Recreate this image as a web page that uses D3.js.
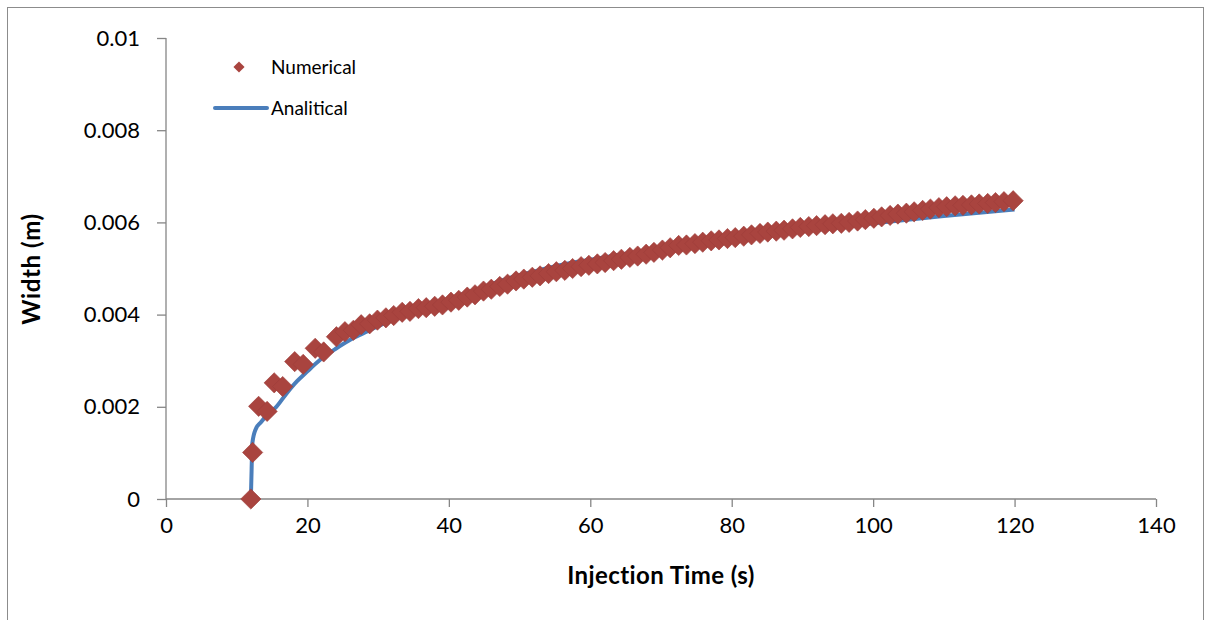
<!DOCTYPE html>
<html>
<head>
<meta charset="utf-8">
<script src="https://cdn.jsdelivr.net/npm/d3@7"></script>
<style>
  html, body { margin: 0; padding: 0; background: #ffffff; }
  svg { display: block; }
  text { font-family: Lato, "Open Sans", sans-serif; fill: #000; }
</style>
</head>
<body>
<svg id="chart" width="1207" height="620"></svg>
<script>
// Fracture width versus injection time: simulated points and closed-form curve.
const numericalTime = [
  12.0, 12.25, 13.1, 14.3, 15.3, 16.5, 18.2, 19.4, 21.1, 22.3, 24.1, 25.3,
  26.5, 27.6, 28.8, 29.9, 31.1, 32.2, 33.4, 34.5, 35.7, 36.8, 38.0, 39.1,
  40.3, 41.4, 42.6, 43.7, 44.9, 46.0, 47.2, 48.3, 49.5, 50.6, 51.8, 52.9,
  54.1, 55.2, 56.4, 57.5, 58.7, 59.8, 61.0, 62.1, 63.3, 64.4, 65.6, 66.7,
  67.9, 69.0, 70.2, 71.3, 72.5, 73.6, 74.8, 75.9, 77.1, 78.2, 79.4, 80.5,
  81.7, 82.8, 84.0, 85.1, 86.3, 87.4, 88.6, 89.7, 90.9, 92.0, 93.2, 94.3,
  95.5, 96.6, 97.8, 98.9, 100.1, 101.2, 102.4, 103.5, 104.7, 105.8, 107.0, 108.1,
  109.3, 110.4, 111.6, 112.7, 113.9, 115.0, 116.2, 117.3, 118.5, 119.8
];
const numericalWidth = [
  0.0, 0.00101, 0.00201, 0.00190, 0.00252, 0.00244, 0.00298, 0.00292, 0.00327, 0.00319, 0.00352, 0.00363,
  0.00366, 0.00378, 0.00380, 0.00388, 0.00393, 0.00398, 0.00405, 0.00407, 0.00413, 0.00415, 0.00418, 0.00421,
  0.00427, 0.00431, 0.00438, 0.00443, 0.00451, 0.00455, 0.00461, 0.00466, 0.00473, 0.00477, 0.00481, 0.00484,
  0.00489, 0.00493, 0.00496, 0.00500, 0.00504, 0.00507, 0.00510, 0.00513, 0.00517, 0.00520, 0.00524, 0.00527,
  0.00531, 0.00535, 0.00540, 0.00545, 0.00550, 0.00551, 0.00554, 0.00557, 0.00560, 0.00562, 0.00565, 0.00567,
  0.00570, 0.00573, 0.00576, 0.00579, 0.00581, 0.00583, 0.00586, 0.00589, 0.00591, 0.00593, 0.00595, 0.00597,
  0.00598, 0.00600, 0.00603, 0.00606, 0.00609, 0.00612, 0.00615, 0.00618, 0.00620, 0.00623, 0.00626, 0.00629,
  0.00632, 0.00634, 0.00636, 0.00637, 0.00638, 0.00640, 0.00641, 0.00643, 0.00645, 0.00647
];
const analyticalTime = [
  12.0, 12.1, 12.2, 12.7, 13.4, 14.5, 15.6, 17.0, 18.5, 20.0, 21.8, 24.0,
  26.0, 28.0, 30.0, 33.0, 36.0, 40.0, 44.0, 48.7, 52.9, 56.0, 60.0, 65.0,
  70.0, 80.0, 90.0, 100.0, 110.0, 120.0
];
const analyticalWidth = [
  0.0, 0.0006, 0.0012, 0.00152, 0.00166, 0.00186, 0.00200, 0.00228, 0.00255, 0.00277, 0.00302, 0.00326,
  0.00345, 0.00360, 0.00375, 0.00395, 0.00412, 0.00434, 0.00455, 0.00480, 0.00497, 0.00508, 0.00519, 0.00532,
  0.00543, 0.00563, 0.00581, 0.00598, 0.00614, 0.00628
];
const xTicks = [0, 20, 40, 60, 80, 100, 120, 140];
const yTicks = [0, 0.002, 0.004, 0.006, 0.008, 0.01];
const yTickLabels = ["0", "0.002", "0.004", "0.006", "0.008", "0.01"];
const seriesNames = ["Numerical", "Analitical"];
const xTitle = "Injection Time (s)";
const yTitle = "Width (m)";

const markerColor = "#A9443F";
const lineColor = "#4A7EBB";
const axisColor = "#868686";

const svg = d3.select("#chart");

// outer chart frame
svg.append("rect")
  .attr("x", 7.5).attr("y", 7.5)
  .attr("width", 1196).attr("height", 640)
  .attr("fill", "#fff")
  .attr("stroke", "#8c8c8c").attr("stroke-width", 1);

const x = d3.scaleLinear().domain([0, 140]).range([166, 1156]);
const y = d3.scaleLinear().domain([0, 0.01]).range([499, 38]);

// axes
const xAxis = d3.axisBottom(x).tickValues(xTicks).tickSize(8).tickPadding(10)
  .tickFormat(d => String(d));
const yAxis = d3.axisLeft(y).tickValues(yTicks).tickSize(9).tickPadding(17)
  .tickFormat((d, i) => yTickLabels[i]);

const gx = svg.append("g").attr("transform", "translate(0,499)").call(xAxis);
const gy = svg.append("g").attr("transform", "translate(166,0)").call(yAxis);

[gx, gy].forEach(g => {
  g.select(".domain").attr("stroke", axisColor).attr("stroke-width", 1.3);
  g.selectAll(".tick line").attr("stroke", axisColor).attr("stroke-width", 1.3);
  g.selectAll(".tick text")
    .attr("fill", "#000")
    .style("font-family", "Lato, 'Open Sans', sans-serif")
    .style("font-size", "22px");
});
gx.select(".domain").attr("d", "M166,0H1156");
gy.select(".domain").attr("d", "M0,38V499");

// axis titles
svg.append("text")
  .attr("x", 661).attr("y", 584)
  .attr("text-anchor", "middle")
  .style("font-size", "24px").style("font-weight", "bold")
  .style("letter-spacing", "0.4px")
  .text(xTitle);
svg.append("text")
  .attr("transform", "translate(40,269) rotate(-90)")
  .attr("text-anchor", "middle")
  .style("font-size", "24px").style("font-weight", "bold")
  .style("letter-spacing", "0.6px")
  .text(yTitle);

// analytical curve
const analytical = analyticalTime.map((t, i) => [t, analyticalWidth[i]]);
const line = d3.line().x(d => x(d[0])).y(d => y(d[1])).curve(d3.curveMonotoneX);
svg.append("path")
  .datum(analytical)
  .attr("d", line)
  .attr("fill", "none")
  .attr("stroke", lineColor)
  .attr("stroke-width", 4)
  .attr("stroke-linejoin", "round");

// numerical markers (square rotated into a diamond)
const numerical = numericalTime.map((t, i) => [t, numericalWidth[i]]);
const diamond = d3.symbol().type(d3.symbolSquare).size(205);
svg.append("g").selectAll("path")
  .data(numerical)
  .join("path")
  .attr("d", diamond)
  .attr("transform", d => `translate(${x(d[0])},${y(d[1])}) rotate(45)`)
  .attr("fill", markerColor)
  .attr("stroke", "#9E3D3A")
  .attr("stroke-width", 0.6);

// legend
const legend = svg.append("g");
legend.append("path")
  .attr("d", d3.symbol().type(d3.symbolSquare).size(62)())
  .attr("transform", "translate(239,67) rotate(45)")
  .attr("fill", markerColor);
legend.append("text")
  .attr("x", 271).attr("y", 67).attr("dy", "0.35em")
  .style("font-size", "19px")
  .text(seriesNames[0]);
legend.append("line")
  .attr("x1", 215).attr("x2", 267).attr("y1", 108).attr("y2", 108)
  .attr("stroke", lineColor).attr("stroke-width", 4).attr("stroke-linecap", "round");
legend.append("text")
  .attr("x", 271).attr("y", 108).attr("dy", "0.35em")
  .style("font-size", "19px")
  .text(seriesNames[1]);
</script>
</body>
</html>
